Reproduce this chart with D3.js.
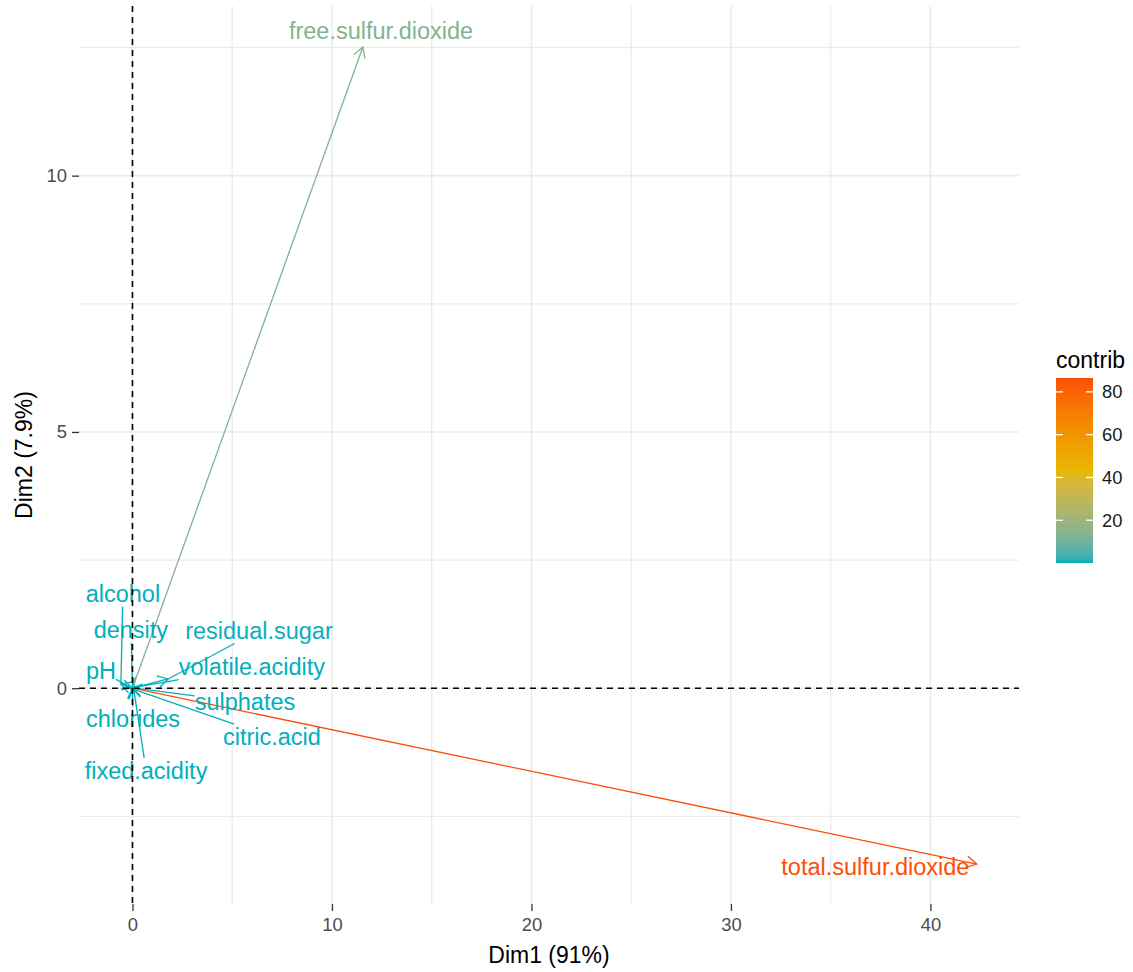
<!DOCTYPE html>
<html>
<head>
<meta charset="utf-8">
<script src="https://cdn.jsdelivr.net/npm/d3@7"></script>
<style>
  html, body { margin: 0; padding: 0; background: #ffffff; }
  svg { display: block; font-family: "Liberation Sans", Arial, sans-serif; }
</style>
</head>
<body>
<svg id="chart" width="1133" height="972"></svg>
<script>
// ---------------- data ----------------
const variables = ["fixed.acidity", "volatile.acidity", "citric.acid", "residual.sugar",
  "chlorides", "free.sulfur.dioxide", "total.sulfur.dioxide", "density", "pH",
  "sulphates", "alcohol"];
const dim1 = [0.08, 0.03, 0.03, 1.79, 0.002, 11.55, 42.32, -0.001, -0.04, 0.02, -0.58];
const dim2 = [-0.06, 0.01, -0.02, 0.18, -0.003, 12.51, -3.43, 0.002, 0.003, 0.005, 0.08];
const contrib = [0.0, 0.0, 0.0, 0.16, 0.0, 13.3, 86.5, 0.0, 0.0, 0.0, 0.02];
// repelled label positions (in data units)
const labelDim1 = [0.68, 5.99, 6.99, 6.34, 0.03, 12.46, 37.24, -0.08, -1.58, 5.64, -0.48];
const labelDim2 = [-1.61, 0.42, -0.95, 1.13, -0.60, 12.82, -3.49, 1.14, 0.34, -0.27, 1.85];

const xLimits = [-2.68, 44.44];
const yLimits = [-4.21, 13.31];
const xTicks = [0, 10, 20, 30, 40];
const xMinor = [5, 15, 25, 35];
const yTicks = [0, 5, 10];
const yMinor = [-2.5, 2.5, 7.5, 12.5];
const legendBreaks = [20, 40, 60, 80];
const gradientColors = ["#00AFBB", "#E7B800", "#FC4E07"];
const xTitle = "Dim1 (91%)";
const yTitle = "Dim2 (7.9%)";
const legendTitle = "contrib";

// ---------------- layout ----------------
const panel = { left: 79, right: 1019, top: 6, bottom: 904 };
const svg = d3.select("#chart");

const x = d3.scaleLinear().domain(xLimits).range([panel.left, panel.right]);
const y = d3.scaleLinear().domain(yLimits).range([panel.bottom, panel.top]);

const cExtent = d3.extent(contrib);
const color = d3.scaleLinear()
  .domain([cExtent[0], (cExtent[0] + cExtent[1]) / 2, cExtent[1]])
  .range(gradientColors)
  .interpolate(d3.interpolateLab);

// ---------------- grid ----------------
const grid = svg.append("g");
const gridColor = "#EBEBEB";
grid.selectAll(".vminor").data(xMinor).join("line")
  .attr("x1", d => x(d)).attr("x2", d => x(d))
  .attr("y1", panel.top).attr("y2", panel.bottom)
  .attr("stroke", gridColor).attr("stroke-width", 1.3);
grid.selectAll(".hminor").data(yMinor).join("line")
  .attr("y1", d => y(d)).attr("y2", d => y(d))
  .attr("x1", panel.left).attr("x2", panel.right)
  .attr("stroke", gridColor).attr("stroke-width", 1.3);
grid.selectAll(".vmajor").data(xTicks).join("line")
  .attr("x1", d => x(d)).attr("x2", d => x(d))
  .attr("y1", panel.top).attr("y2", panel.bottom)
  .attr("stroke", gridColor).attr("stroke-width", 1.6);
grid.selectAll(".hmajor").data(yTicks).join("line")
  .attr("y1", d => y(d)).attr("y2", d => y(d))
  .attr("x1", panel.left).attr("x2", panel.right)
  .attr("stroke", gridColor).attr("stroke-width", 1.6);

// ---------------- axes ----------------
const xAxis = svg.append("g")
  .attr("transform", `translate(0,${panel.bottom})`)
  .call(d3.axisBottom(x).tickValues(xTicks).tickSize(7).tickPadding(7).tickFormat(d3.format("d")));
const yAxis = svg.append("g")
  .attr("transform", `translate(${panel.left},0)`)
  .call(d3.axisLeft(y).tickValues(yTicks).tickSize(7).tickPadding(5).tickFormat(d3.format("d")));
[xAxis, yAxis].forEach(a => {
  a.select(".domain").remove();
  a.selectAll(".tick line").attr("stroke", "#333333").attr("stroke-width", 1.3);
  a.selectAll(".tick text").attr("fill", "#4D4D4D")
    .attr("font-size", "18.4px").attr("font-family", "Liberation Sans, Arial, sans-serif");
});

svg.append("text")
  .attr("x", (panel.left + panel.right) / 2).attr("y", 963)
  .attr("text-anchor", "middle").attr("font-size", "23px").attr("fill", "#000")
  .text(xTitle);
svg.append("text")
  .attr("transform", `translate(32,${(panel.top + panel.bottom) / 2}) rotate(-90)`)
  .attr("text-anchor", "middle").attr("font-size", "23px").attr("fill", "#000")
  .text(yTitle);

// ---------------- arrows ----------------
const rows = variables.map((v, i) => ({
  name: v, d1: dim1[i], d2: dim2[i], c: contrib[i], lx: labelDim1[i], ly: labelDim2[i]
}));
const arrowLen = 11.8, arrowAng = Math.PI / 6;
const arrows = svg.append("g");
rows.forEach(r => {
  const x0 = x(0), y0 = y(0), x1 = x(r.d1), y1 = y(r.d2);
  const col = color(r.c);
  arrows.append("line")
    .attr("x1", x0).attr("y1", y0).attr("x2", x1).attr("y2", y1)
    .attr("stroke", col).attr("stroke-width", 1.3);
  const ang = Math.atan2(y1 - y0, x1 - x0);
  const p1 = [x1 - arrowLen * Math.cos(ang - arrowAng), y1 - arrowLen * Math.sin(ang - arrowAng)];
  const p2 = [x1 - arrowLen * Math.cos(ang + arrowAng), y1 - arrowLen * Math.sin(ang + arrowAng)];
  arrows.append("path")
    .attr("d", `M${p1[0]},${p1[1]}L${x1},${y1}L${p2[0]},${p2[1]}`)
    .attr("fill", "none").attr("stroke", col).attr("stroke-width", 1.3)
    .attr("stroke-linejoin", "miter");
});

// ---------------- labels (with repel segments) ----------------
const segs = svg.append("g");
const labels = svg.append("g");
rows.forEach(r => {
  const col = color(r.c);
  const cx = x(r.lx), cy = y(r.ly);
  const t = labels.append("text")
    .attr("x", cx).attr("y", cy).attr("dy", "0.35em")
    .attr("text-anchor", "middle").attr("font-size", "23.5px")
    .attr("fill", col).text(r.name);
  const bb = t.node().getBBox();
  const bcx = bb.x + bb.width / 2, bcy = bb.y + bb.height / 2;
  const px = x(r.d1), py = y(r.d2);
  const dx = bcx - px, dy = bcy - py;
  const inside = Math.abs(dx) <= bb.width / 2 && Math.abs(dy) <= bb.height / 2;
  if (!inside) {
    const sx = Math.abs(dx) > 0 ? 1 - (bb.width / 2) / Math.abs(dx) : 0;
    const sy = Math.abs(dy) > 0 ? 1 - (bb.height / 2) / Math.abs(dy) : 0;
    const s = Math.max(sx, sy, 0);
    const ex = px + s * dx, ey = py + s * dy;
    const len = Math.hypot(ex - px, ey - py);
    if (len > 12) {
      segs.append("line")
        .attr("x1", px).attr("y1", py).attr("x2", ex).attr("y2", ey)
        .attr("stroke", col).attr("stroke-width", 1.3);
    }
  }
});

// ---------------- reference dashed lines ----------------
svg.append("line")
  .attr("x1", panel.left).attr("x2", panel.right).attr("y1", y(0)).attr("y2", y(0))
  .attr("stroke", "#000").attr("stroke-width", 1.6).attr("stroke-dasharray", "6,5");
svg.append("line")
  .attr("x1", x(0)).attr("x2", x(0)).attr("y1", panel.top).attr("y2", panel.bottom)
  .attr("stroke", "#000").attr("stroke-width", 1.6).attr("stroke-dasharray", "6,5");

// ---------------- legend ----------------
const leg = { x: 1056, w: 37, top: 378, bottom: 563 };
const ly = d3.scaleLinear().domain(cExtent).range([leg.bottom, leg.top]);
const defs = svg.append("defs");
const grad = defs.append("linearGradient").attr("id", "cgrad")
  .attr("x1", 0).attr("y1", 1).attr("x2", 0).attr("y2", 0);
d3.range(0, 1.0001, 0.02).forEach(f => {
  grad.append("stop").attr("offset", f)
    .attr("stop-color", color(cExtent[0] + f * (cExtent[1] - cExtent[0])));
});
svg.append("text")
  .attr("x", leg.x).attr("y", 368).attr("font-size", "23px").attr("fill", "#000")
  .text(legendTitle);
svg.append("rect")
  .attr("x", leg.x).attr("y", leg.top).attr("width", leg.w).attr("height", leg.bottom - leg.top)
  .attr("fill", "url(#cgrad)");
const lt = svg.append("g");
legendBreaks.forEach(b => {
  const yy = ly(b);
  lt.append("line").attr("x1", leg.x).attr("x2", leg.x + 7).attr("y1", yy).attr("y2", yy)
    .attr("stroke", "#fff").attr("stroke-width", 1.3);
  lt.append("line").attr("x1", leg.x + leg.w - 7).attr("x2", leg.x + leg.w).attr("y1", yy).attr("y2", yy)
    .attr("stroke", "#fff").attr("stroke-width", 1.3);
  lt.append("text").attr("x", 1102).attr("y", yy).attr("dy", "0.35em")
    .attr("font-size", "18.4px").attr("fill", "#1A1A1A").text(b);
});
</script>
</body>
</html>
